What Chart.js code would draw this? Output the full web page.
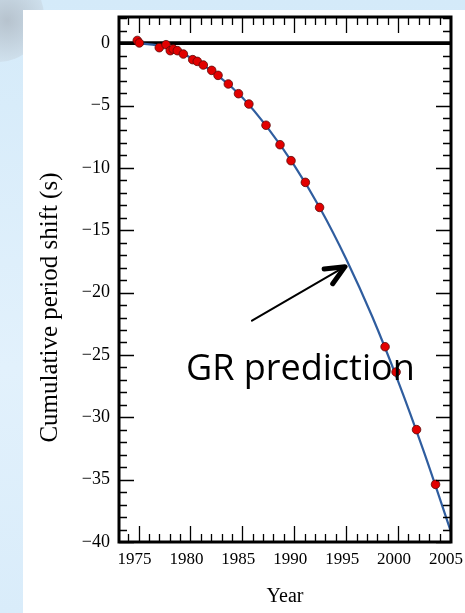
<!DOCTYPE html>
<html>
<head>
<meta charset="utf-8">
<script src="https://cdn.jsdelivr.net/npm/chart.js@4.4.1/dist/chart.umd.min.js"></script>
<style>
  html, body { margin: 0; padding: 0; }
  body {
    width: 465px; height: 613px; overflow: hidden; position: relative;
    background: linear-gradient(180deg, #d4eaf9 0%, #e2f1fc 60%, #d9ecfa 100%);
  }
  #blob {
    position: absolute; left: -48px; top: -30px; width: 92px; height: 92px; border-radius: 50%;
    background: radial-gradient(circle at 60% 55%, rgba(175,185,195,0.8) 0%, rgba(200,212,222,0.45) 55%, rgba(215,230,242,0) 72%);
  }
  #panel { position: absolute; left: 23px; top: 10px; right: 0; bottom: 0; background: #fff; }
  #chart { position: absolute; left: 0; top: 0; }
</style>
</head>
<body>
<div id="blob"></div>
<div id="panel"></div>
<canvas id="chart" width="465" height="613"></canvas>
<script>
// measured period shift (timing data points)
const obsYears  = [1974.88, 1975.08, 1977.0, 1977.65, 1978.06, 1978.35, 1978.74, 1979.32, 1980.22, 1980.66,
                   1981.24, 1982.05, 1982.66, 1983.65, 1984.63, 1985.63, 1987.28, 1988.63, 1989.69, 1991.07,
                   1992.44, 1998.75, 1999.81, 2001.78, 2003.61];
const obsShifts = [0.22, 0.02, -0.36, -0.12, -0.60, -0.47, -0.60, -0.87, -1.32, -1.46,
                   -1.75, -2.18, -2.58, -3.27, -4.05, -4.88, -6.58, -8.14, -9.42, -11.16,
                   -13.17, -24.34, -26.37, -30.99, -35.38];

// GR prediction curve
const grYears  = [1975.0, 1977.5, 1980.0, 1982.5, 1985.0, 1987.5, 1990.0, 1992.5, 1995.0, 1997.5, 2000.0, 2002.5, 2005.1];
const grShifts = [0, -0.28, -1.15, -2.5, -4.35, -6.85, -9.8, -13.25, -17.3, -21.9, -27.1, -32.8, -39.2];

const xTicks = [1975, 1980, 1985, 1990, 1995, 2000, 2005];
const yTicks = [0, -5, -10, -15, -20, -25, -30, -35, -40];

const serif = '"Liberation Serif", "Times New Roman", serif';

// box frame, inward tick marks, zero line, y title and the annotation arrow
const framePlugin = {
  id: 'frame',
  beforeDatasetsDraw(chart) {
    const { ctx, chartArea: a, scales: { y } } = chart;
    const y0 = y.getPixelForValue(0);
    ctx.save();
    ctx.strokeStyle = '#000';
    ctx.lineWidth = 3.8;
    ctx.beginPath();
    ctx.moveTo(a.left, y0);
    ctx.lineTo(a.right, y0);
    ctx.stroke();
    ctx.restore();
  },
  afterDatasetsDraw(chart) {
    const { ctx, chartArea: a, scales: { x, y } } = chart;
    ctx.save();
    ctx.strokeStyle = '#000';
    ctx.lineWidth = 1.3;
    ctx.beginPath();
    for (let yr = Math.ceil(x.min); yr <= Math.floor(x.max); yr++) {
      const px = Math.round(x.getPixelForValue(yr)) + 0.5;
      const len = yr % 5 === 0 ? 16 : 8;
      ctx.moveTo(px, a.bottom); ctx.lineTo(px, a.bottom - len);
      ctx.moveTo(px, a.top);    ctx.lineTo(px, a.top + len);
    }
    for (let v = Math.floor(y.max); v >= Math.ceil(y.min); v--) {
      const py = Math.round(y.getPixelForValue(v)) + 0.5;
      const len = v % 5 === 0 ? 15 : 8;
      ctx.moveTo(a.left, py);  ctx.lineTo(a.left + len, py);
      ctx.moveTo(a.right, py); ctx.lineTo(a.right - len, py);
    }
    ctx.stroke();
    ctx.lineWidth = 3;
    ctx.strokeRect(a.left, a.top, a.right - a.left, a.bottom - a.top);
    ctx.restore();
  },
  afterDraw(chart) {
    const { ctx, scales: { x, y } } = chart;

    // y axis title, sitting a little below the middle of the axis
    ctx.save();
    ctx.translate(50, y.getPixelForValue(-21.2));
    ctx.rotate(-Math.PI / 2);
    ctx.fillStyle = '#000';
    ctx.font = '25px ' + serif;
    ctx.textAlign = 'center';
    ctx.textBaseline = 'middle';
    ctx.fillText('Cumulative period shift (s)', 0, 0);
    ctx.restore();

    const sx = x.getPixelForValue(1985.93), sy = y.getPixelForValue(-22.25);
    const tx = x.getPixelForValue(1994.89), ty = y.getPixelForValue(-17.92);
    const ang = Math.atan2(ty - sy, tx - sx);
    ctx.save();
    ctx.strokeStyle = '#000';
    ctx.lineCap = 'round';
    ctx.lineJoin = 'round';
    ctx.lineWidth = 2;
    ctx.beginPath();
    ctx.moveTo(sx, sy);
    ctx.lineTo(tx - 3 * Math.cos(ang), ty - 3 * Math.sin(ang));
    ctx.stroke();
    ctx.lineWidth = 5;
    ctx.beginPath();
    const head = 21, spread = 24 * Math.PI / 180;
    ctx.moveTo(tx - head * Math.cos(ang - spread), ty - head * Math.sin(ang - spread));
    ctx.lineTo(tx, ty);
    ctx.lineTo(tx - head * Math.cos(ang + spread), ty - head * Math.sin(ang + spread));
    ctx.stroke();

    ctx.fillStyle = '#000';
    ctx.font = '36px "Open Sans", sans-serif';
    ctx.textAlign = 'left';
    ctx.textBaseline = 'alphabetic';
    ctx.fillText('GR prediction', x.getPixelForValue(1979.58), y.getPixelForValue(-26.98));
    ctx.restore();
  }
};

new Chart(document.getElementById('chart'), {
  type: 'scatter',
  data: {
    datasets: [
      {
        label: 'Observed',
        data: obsYears.map((t, i) => ({ x: t, y: obsShifts[i] })),
        pointRadius: 4.3,
        pointHoverRadius: 4.3,
        backgroundColor: '#e20000',
        borderColor: '#5a0a0a',
        borderWidth: 0.8
      },
      {
        label: 'GR prediction',
        data: grYears.map((t, i) => ({ x: t, y: grShifts[i] })),
        showLine: true,
        cubicInterpolationMode: 'monotone',
        borderColor: '#2f5d9f',
        borderWidth: 2.2,
        pointRadius: 0
      }
    ]
  },
  options: {
    responsive: false,
    animation: false,
    devicePixelRatio: 1,
    layout: { padding: { top: 17, right: 14, left: 0, bottom: 0 } },
    plugins: { legend: { display: false }, tooltip: { enabled: false } },
    scales: {
      x: {
        type: 'linear',
        min: 1973.12,
        max: 2005.1,
        grid: { display: false, drawTicks: false },
        border: { display: false },
        afterBuildTicks: s => { s.ticks = xTicks.map(v => ({ value: v })); },
        afterFit: s => { s.height = 71; s.paddingLeft = 0; s.paddingRight = 0; },
        ticks: {
          color: '#000',
          font: { family: serif, size: 17 },
          padding: 7,
          labelOffset: -4,
          maxRotation: 0,
          autoSkip: false,
          callback: v => String(v)
        },
        title: {
          display: true,
          text: 'Year',
          color: '#000',
          font: { family: serif, size: 20 },
          padding: { top: 0, bottom: 4 }
        }
      },
      y: {
        type: 'linear',
        min: -40,
        max: 2.1,
        grid: { display: false, drawTicks: false },
        border: { display: false },
        afterBuildTicks: s => { s.ticks = yTicks.map(v => ({ value: v })); },
        afterFit: s => { s.width = 119; s.paddingTop = 0; s.paddingBottom = 0; },
        ticks: {
          color: '#000',
          font: { family: serif, size: 18 },
          padding: 9,
          autoSkip: false,
          callback: v => (v < 0 ? '\u2212' + Math.abs(v) : String(v))
        },
        title: { display: false }
      }
    }
  },
  plugins: [framePlugin]
});
</script>
</body>
</html>
